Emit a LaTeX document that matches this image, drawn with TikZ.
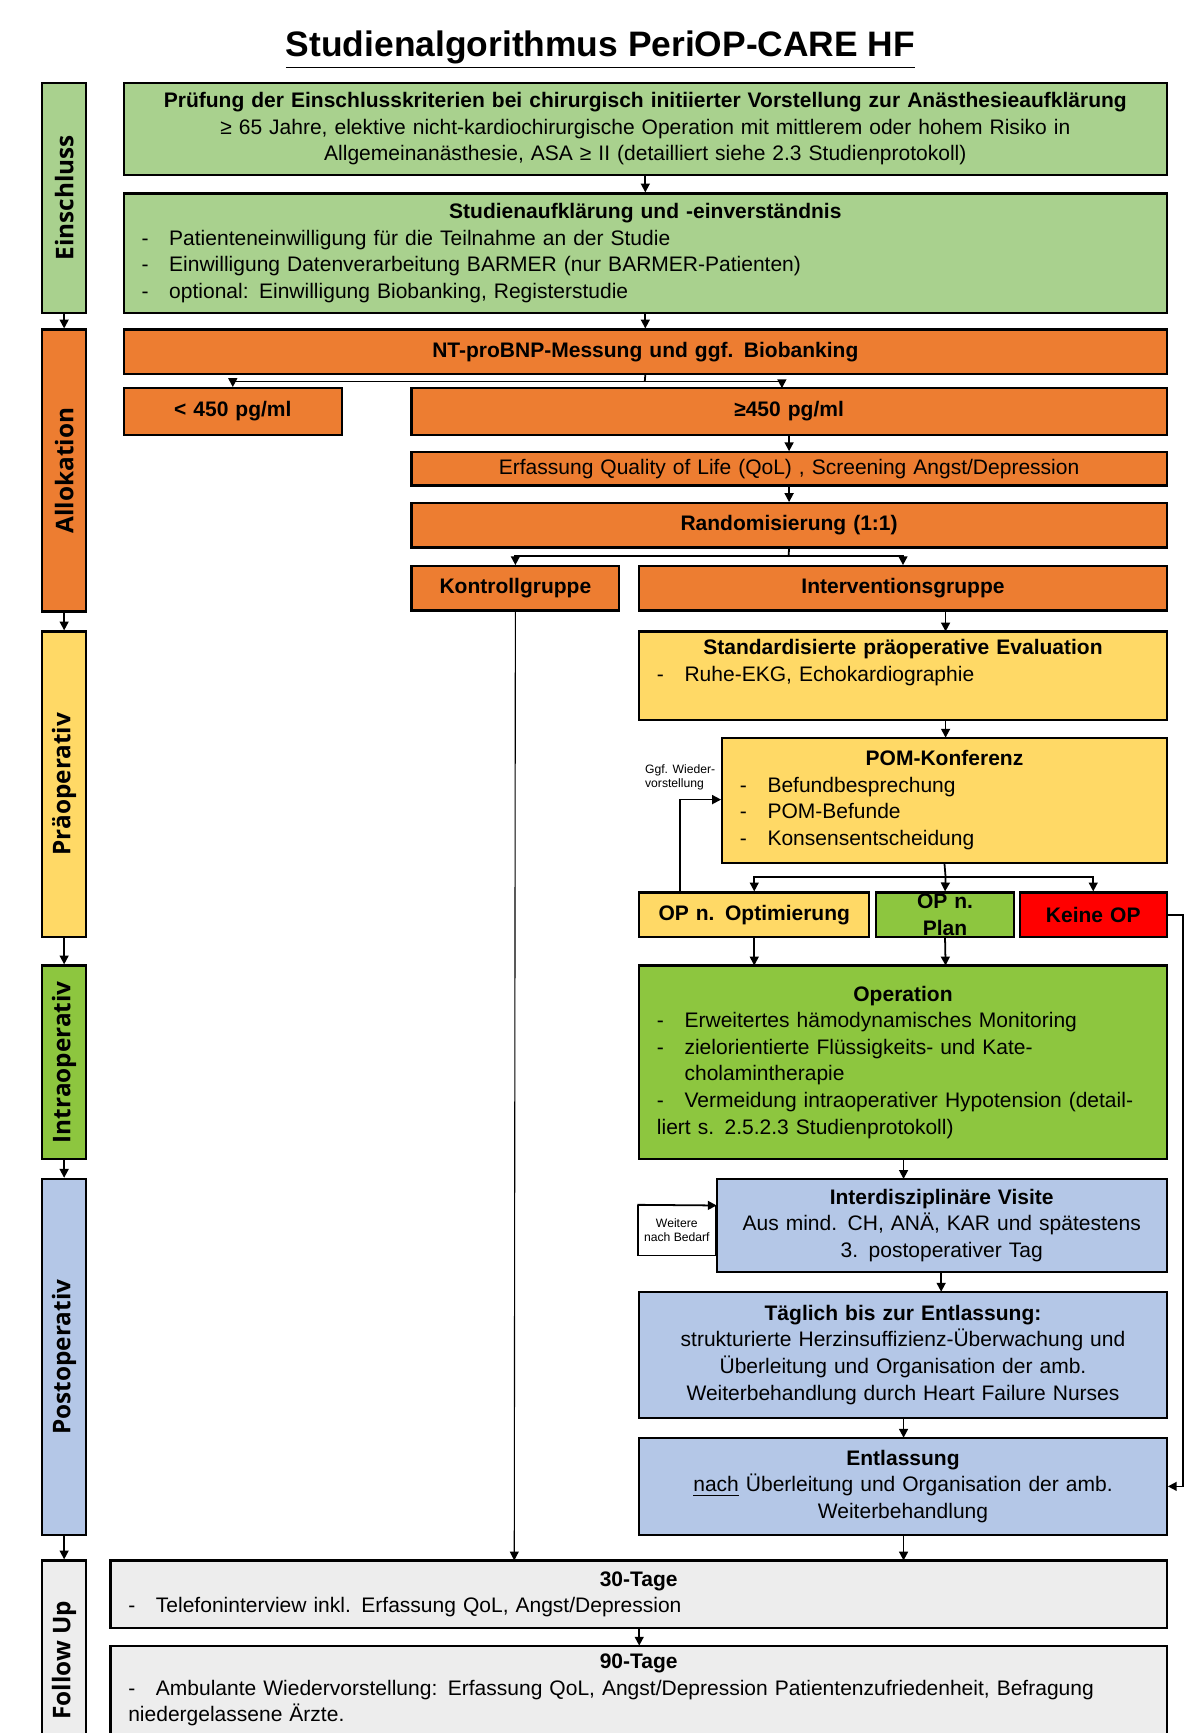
\documentclass[tikz,border=0pt]{standalone}
\usepackage{fontspec}
\setmainfont{Liberation Sans}
\newfontfamily\sidefont{Open Sans}
\usetikzlibrary{arrows.meta}
\definecolor{cgreen}{HTML}{A9D18E}
\definecolor{corange}{HTML}{ED7D31}
\definecolor{cyellow}{HTML}{FFD966}
\definecolor{cbgreen}{HTML}{8DC63F}
\definecolor{cred}{HTML}{FF0000}
\definecolor{cblue}{HTML}{B4C7E7}
\definecolor{cgray}{HTML}{EDEDED}
\newcommand\bx[7]{\node[box,fill=#6,minimum width={(#4-#2)*0.5pt},minimum height={(#5-#3)*0.5pt},text width={(#4-#2)*0.5pt-16pt}] (#1) at ({(#2+#4)/2},{(#3+#5)/2}) {#7};}
\newcommand\side[5]{\node[sidebox,fill=#4,minimum width={(#3-#2)*0.5pt}] (#1) at (58,{(#2+#3)/2}) {\rotatebox{90}{#5}};}
\newcommand\itm[1]{\par\noindent\hangindent=12.5pt\hangafter=1\makebox[12.5pt][l]{-}#1}
\newcommand\ttl[1]{{\centering\textbf{#1}\par}}
\tikzset{
 box/.style={draw=black,line width=1pt,inner sep=0pt,font=\fontsize{9.5}{12}\selectfont,align=left},
 sidebox/.style={draw=black,line width=1pt,minimum height=20pt,inner sep=0pt,font=\sidefont\bfseries\fontsize{11}{12}\selectfont},
 arr/.style={-{Triangle[length=4pt,width=4pt]},line width=0.8pt},
 thin/.style={-{Triangle[length=4pt,width=4pt]},line width=0.5pt},
}
\begin{document}
\begin{tikzpicture}[x=0.5pt,y=-0.5pt]
\useasboundingbox (0,0) rectangle (1085,1567);
\node (title) at (543,45) {\fontsize{16}{18}\selectfont\bfseries\underline{Studienalgorithmus PeriOP-CARE HF}};
% side bars
\node[sidebox,fill=cgreen,minimum height=20pt,minimum width=104pt,rotate=90] (s1) at (58,179) {Einschluss};
\node[sidebox,fill=corange,minimum width=127.5pt,rotate=90] (s2) at (58,425.5) {Allokation};
\node[sidebox,fill=cyellow,minimum width=138pt,rotate=90] (s3) at (58,709) {Präoperativ};
\node[sidebox,fill=cbgreen,minimum width=87.5pt,rotate=90] (s4) at (58,960.5) {Intraoperativ};
\node[sidebox,fill=cblue,minimum width=161pt,rotate=90] (s5) at (58,1227) {Postoperativ};
\node[sidebox,fill=cgray,minimum width=90pt,rotate=90] (s6) at (58,1501) {Follow Up};
\draw[arr] (s1.west) -- (s2.east);
\draw[arr] (s2.west) -- (s3.east);
\draw[arr] (s3.west) -- (s4.east);
\draw[arr] (s4.west) -- (s5.east);
\draw[arr] (s5.west) -- (s6.east);
% boxes
\bx{b1}{112}{75}{1055}{158}{cgreen}{\ttl{Prüfung der Einschlusskriterien bei chirurgisch initiierter Vorstellung zur Anästhesieaufklärung}{\centering ≥ 65 Jahre, elektive nicht-kardiochirurgische Operation mit mittlerem oder hohem Risiko in Allgemeinanästhesie, ASA ≥ II (detailliert siehe 2.3 Studienprotokoll)\par}}
\bx{b2}{112}{175}{1055}{283}{cgreen}{\ttl{Studienaufklärung und -einverständnis}\itm{Patienteneinwilligung für die Teilnahme an der Studie}\itm{Einwilligung Datenverarbeitung BARMER (nur BARMER-Patienten)}\itm{optional: Einwilligung Biobanking, Registerstudie}}
\bx{nt}{112}{298}{1055}{338}{corange}{\ttl{NT-proBNP-Messung und ggf. Biobanking}}
\bx{lo}{112}{351}{309}{393}{corange}{\ttl{< 450 pg/ml}}
\bx{hi}{372}{351}{1055}{393}{corange}{\ttl{≥450 pg/ml}}
\bx{qol}{372}{409}{1055}{439}{corange}{{\centering Erfassung Quality of Life (QoL) , Screening Angst/Depression\par}}
\bx{rand}{372}{455}{1055}{495}{corange}{\ttl{Randomisierung (1:1)}}
\bx{kg}{372}{512}{560}{552}{corange}{\ttl{Kontrollgruppe}}
\bx{ig}{578}{512}{1055}{552}{corange}{\ttl{Interventionsgruppe}}
\bx{std}{578}{571}{1055}{651}{cyellow}{\ttl{Standardisierte präoperative Evaluation}\itm{Ruhe-EKG, Echokardiographie}\vspace{12pt}}
\bx{pom}{653}{667}{1055}{780}{cyellow}{\ttl{POM-Konferenz}\itm{Befundbesprechung}\itm{POM-Befunde}\itm{Konsensentscheidung}}
\bx{opo}{578}{807}{786}{847}{cyellow}{\ttl{OP n. Optimierung}}
\bx{opp}{792}{807}{917}{847}{cbgreen}{\ttl{OP n. Plan}}
\bx{kop}{922}{807}{1055}{847}{cred}{\ttl{Keine OP}}
\bx{op}{578}{873}{1055}{1048}{cbgreen}{\ttl{Operation}\itm{Erweitertes hämodynamisches Monitoring}\itm{zielorientierte Flüssigkeits- und Katecholamintherapie}\itm{Vermeidung intraoperativer Hypotension (detailliert s. 2.5.2.3 Studienprotokoll)}}
\bx{vis}{648}{1066}{1055}{1150}{cblue}{\ttl{Interdisziplinäre Visite}{\centering Aus mind. CH, ANÄ, KAR und spätestens 3. postoperativer Tag\par}}
\node[draw=black,line width=0.6pt,fill=white,minimum width=35pt,minimum height=22.5pt,inner sep=0pt,align=center,font=\fontsize{5.5}{6.5}\selectfont] (wb) at (612,1112.5) {Weitere\\nach Bedarf};
\bx{tag}{578}{1168}{1055}{1282}{cblue}{\ttl{Täglich bis zur Entlassung:}{\centering strukturierte Herzinsuffizienz-Überwachung und Überleitung und Organisation der amb. Weiterbehandlung durch Heart Failure Nurses\par}}
\bx{ent}{578}{1300}{1055}{1388}{cblue}{\ttl{Entlassung}{\centering \underline{nach} Überleitung und Organisation der amb. Weiterbehandlung\par}}
\bx{t30}{100}{1411}{1055}{1472}{cgray}{\ttl{30-Tage}\itm{Telefoninterview inkl. Erfassung QoL, Angst/Depression}}
\bx{t90}{100}{1488}{1055}{1568}{cgray}{\ttl{90-Tage}\itm{Ambulante Wiedervorstellung: Erfassung QoL, Angst/Depression Patientenzufriedenheit, Befragung niedergelassene Ärzte.}}
\node[font=\fontsize{5.5}{6.5}\selectfont,align=left] (ggf) at (615,703) {Ggf. Wieder-\\vorstellung};
% connectors
\draw[arr] (b1.south) -- (b2.north);
\draw[arr] (b2.south) -- (nt.north);
\coordinate (j1) at (583,345);
\draw[line width=0.8pt] (nt.south) -- (j1);
\draw[arr] (j1) -| (lo.north);
\draw[arr] (j1) -| (707,351);
\draw[arr] (hi.south -| qol.north) -- (qol.north);
\draw[arr] (qol.south) -- (rand.north);
\coordinate (j2) at (713,503);
\draw[line width=0.8pt] (rand.south) -- (j2);
\draw[arr] (j2) -| (kg.north);
\draw[arr] (j2) -| (ig.north);
\draw[thin] (kg.south) -- (465,1411);
\draw[arr] (855,552) -- (855,571);
\draw[arr] (855,651) -- (855,667);
\coordinate (j3) at (855,793);
\draw[line width=0.8pt] (pom.south) -- (j3);
\draw[arr] (j3) -| (opo.north);
\draw[arr] (j3) -- (opp.north);
\draw[arr] (j3) -| (kop.north);
\draw[arr] (615,807) |- (pom.west |- 0,723);
\draw[arr] (opo.south) -- (682,873);
\draw[arr] (opp.south) -- (855,873);
\draw[arr] (kop.east) -- (1070,827) |- (ent.east);
\draw[arr] (817,1048) -- (817,1066);
\draw[arr] (wb.north west) -- (648,1090);
\draw[arr] (851,1150) -- (851,1168);
\draw[arr] (817,1282) -- (817,1300);
\draw[arr] (817,1388) -- (817,1411);
\draw[arr] (578,1472) -- (578,1488);
\end{tikzpicture}
\end{document}
